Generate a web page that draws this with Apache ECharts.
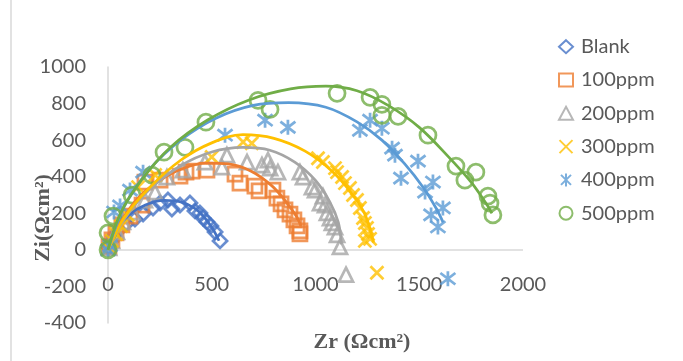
<!DOCTYPE html>
<html>
<head>
<meta charset="utf-8">
<script src="https://cdn.jsdelivr.net/npm/echarts@6/dist/echarts.min.js"></script>
<style>
  html, body { margin: 0; padding: 0; background: #ffffff; }
  #chart { width: 683px; height: 361px; }
</style>
</head>
<body>
<div id="chart"></div>
<script>
// Nyquist data: [Zr, Zi] in Ω·cm²
const seriesNames = ['Blank', '100ppm', '200ppm', '300ppm', '400ppm', '500ppm'];
const seriesColors = ['#4472C4', '#ED7D31', '#A5A5A5', '#FFC000', '#5B9BD5', '#70AD47'];

const blankPts = [[5,11],[14,44],[29,76],[53,109],[87,142],[130,169],[169,196],[217,229],[251,256],[289,273],[308,223],[347,245],[395,256],[419,213],[443,202],[458,174],[477,153],[496,131],[516,98],[540,49]];
const ppm100Pts = [[5,16],[19,55],[39,93],[67,136],[106,185],[164,245],[178,370],[251,381],[347,403],[376,425],[405,431],[477,436],[612,414],[636,365],[708,349],[728,322],[795,327],[814,283],[834,251],[853,218],[877,196],[896,164],[911,131],[925,104],[925,87]];
const ppm200Pts = [[5,11],[19,49],[43,98],[72,153],[120,207],[178,272],[227,316],[284,398],[361,436],[467,480],[549,452],[573,518],[670,480],[742,463],[771,491],[781,447],[819,425],[925,425],[940,398],[983,343],[998,327],[1022,256],[1036,294],[1046,245],[1055,202],[1070,174],[1079,147],[1094,125],[1104,82],[1118,16],[1147,-136]];
const ppm300Pts = [[5,11],[19,49],[39,87],[63,131],[96,191],[145,343],[227,409],[500,508],[651,590],[693,583],[1012,501],[1036,480],[1094,447],[1104,425],[1128,398],[1142,365],[1166,338],[1181,300],[1200,273],[1214,229],[1229,174],[1238,147],[1248,120],[1253,87],[1263,60],[1238,49],[1296,-125]];
const ppm400Pts = [[0,0],[10,22],[29,207],[58,240],[106,327],[169,425],[564,627],[757,709],[867,670],[1214,654],[1263,709],[1320,665],[1369,556],[1383,518],[1412,392],[1494,485],[1528,316],[1566,371],[1557,191],[1614,229],[1590,125],[1638,-158]];
const ppm500Pts = [[0,0],[0,93],[24,185],[116,300],[212,409],[270,534],[371,561],[472,698],[723,818],[781,768],[1104,856],[1263,834],[1320,796],[1320,736],[1398,730],[1542,627],[1677,458],[1720,381],[1773,425],[1831,294],[1841,256],[1855,191]];

// Fitted curves traced along each data set
const blankFit = [[0,0],[40,110],[100,190],[180,245],[270,270],[350,262],[420,225],[470,170],[510,105],[535,50]];
const ppm100Fit = [[0,0],[60,150],[150,290],[250,380],[360,445],[470,475],[580,470],[690,430],[790,350],[860,260],[910,180],[930,130]];
const ppm200Fit = [[0,0],[80,170],[200,330],[350,460],[500,535],[650,560],[780,545],[900,480],[1000,380],[1070,260],[1110,150],[1125,30]];
const ppm300Fit = [[0,0],[80,180],[200,340],[350,490],[500,585],[650,630],[800,610],[950,540],[1080,430],[1180,300],[1240,190],[1280,40]];
const ppm400Fit = [[0,0],[80,240],[200,440],[350,600],[520,720],[700,790],[870,805],[1050,780],[1200,700],[1320,600],[1430,470],[1520,340],[1580,230],[1615,150]];
const ppm500Fit = [[0,0],[60,200],[160,380],[300,560],[480,710],[680,820],[880,880],[1050,895],[1200,870],[1350,790],[1500,670],[1640,510],[1750,370],[1830,240],[1850,200]];

const xTicks = { min: 0, max: 2000, step: 500 };
const yTicks = { min: -400, max: 1000, step: 200 };
const zeroLineY = 0;

const pointSets = [blankPts, ppm100Pts, ppm200Pts, ppm300Pts, ppm400Pts, ppm500Pts];
const fitSets = [blankFit, ppm100Fit, ppm200Fit, ppm300Fit, ppm400Fit, ppm500Fit];

const crossPath = 'path://M0,0L10,10M10,0L0,10';
const starPath = 'path://M0,0L10,10M10,0L0,10M5,-1.5L5,11.5';
const symbols = ['diamond', 'rect', 'triangle', crossPath, starPath, 'circle'];
const symbolSizes = [14, 14, 14, 13, 15, 16];

const labelFont = 'Lato, "Open Sans", "Liberation Sans", sans-serif';
const titleFont = 'bold 22px "Liberation Serif", "Times New Roman", serif';

const series = [];
pointSets.forEach((pts, i) => {
  const s = {
    name: seriesNames[i],
    type: 'scatter',
    data: pts,
    symbol: symbols[i],
    symbolSize: symbolSizes[i],
    itemStyle: {
      color: 'rgba(255,255,255,0)',
      borderColor: seriesColors[i],
      borderWidth: 2.75
    },
    z: 2,
    silent: true
  };
  if (i === 0) {
    // horizontal axis line through Zi = 0
    s.markLine = {
      silent: true,
      symbol: 'none',
      label: { show: false },
      lineStyle: { color: '#D9D9D9', width: 1.5, type: 'solid' },
      data: [{ yAxis: zeroLineY }],
      z: 1
    };
  }
  series.push(s);
});
fitSets.forEach((pts, i) => {
  series.push({
    name: seriesNames[i] + ' fit',
    type: 'line',
    data: pts,
    smooth: 0.35,
    showSymbol: false,
    lineStyle: { color: seriesColors[i], width: 2.75 },
    z: 3,
    silent: true
  });
});

const chart = echarts.init(document.getElementById('chart'), null, { renderer: 'canvas' });
chart.setOption({
  animation: false,
  backgroundColor: '#ffffff',
  grid: { left: 108, right: 160, top: 67, bottom: 38, containLabel: false },
  xAxis: {
    type: 'value',
    min: xTicks.min, max: xTicks.max, interval: xTicks.step,
    axisLine: { show: false },
    axisTick: { show: false },
    splitLine: { show: false },
    axisLabel: {
      color: '#595959', fontSize: 20, fontFamily: labelFont, margin: -48,
      formatter: v => String(v)
    }
  },
  yAxis: {
    type: 'value',
    min: yTicks.min, max: yTicks.max, interval: yTicks.step,
    axisLine: { show: true, onZero: false, lineStyle: { color: '#D9D9D9', width: 1.5 } },
    axisTick: { show: false },
    splitLine: { show: false },
    axisLabel: {
      color: '#595959', fontSize: 20, fontFamily: labelFont, margin: 22,
      formatter: v => String(v)
    }
  },
  legend: {
    data: seriesNames,
    orient: 'vertical',
    left: 553,
    top: 31.7,
    itemWidth: 14,
    itemHeight: 13,
    itemGap: 13.3,
    selectedMode: false,
    textStyle: { color: '#595959', fontSize: 20, fontFamily: labelFont, lineHeight: 20, padding: [0, 0, 0, 3] }
  },
  graphic: [
    {
      type: 'line',
      shape: { x1: 11, y1: 0, x2: 11, y2: 361 },
      style: { stroke: '#D9D9D9', lineWidth: 1.5 },
      silent: true
    },
    {
      type: 'text',
      x: 362, y: 342,
      style: {
        text: 'Zr (Ωcm²)',
        fill: '#595959',
        font: titleFont,
        align: 'center', verticalAlign: 'middle'
      },
      silent: true
    },
    {
      type: 'text',
      x: 43, y: 218,
      rotation: Math.PI / 2,
      style: {
        text: 'Zi(Ωcm²)',
        fill: '#595959',
        font: titleFont,
        align: 'center', verticalAlign: 'middle'
      },
      silent: true
    }
  ],
  series: series
});
</script>
</body>
</html>
